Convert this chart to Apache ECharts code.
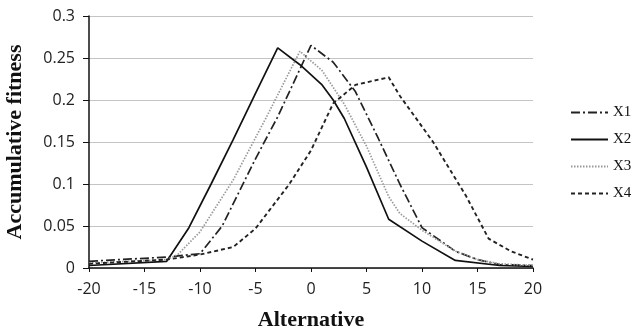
<!DOCTYPE html>
<html><head><meta charset="utf-8">
<script src="https://cdn.jsdelivr.net/npm/echarts@6/dist/echarts.min.js"></script>
<style>html,body{margin:0;padding:0;background:#fff}#c{width:634px;height:331px}</style>
</head><body><div id="c"></div>
<script>
var seriesNames = ['X1', 'X2', 'X3', 'X4'];
var xTicks = [-20, -15, -10, -5, 0, 5, 10, 15, 20];
var yTicks = [0, 0.05, 0.1, 0.15, 0.2, 0.25, 0.3];

var x1X = [-20, -13, -10, -8, -5, -3, 0, 2, 4, 6, 8, 10, 13, 15, 17, 20];
var x1Y = [0.008, 0.013, 0.017, 0.05, 0.13, 0.18, 0.265, 0.245, 0.21, 0.156, 0.1, 0.048, 0.02, 0.01, 0.004, 0.003];

var x2X = [-20, -13, -11, -9, -7, -5, -3, -1, 1, 2, 3, 5, 7, 10, 13, 17, 20];
var x2Y = [0.003, 0.008, 0.048, 0.1, 0.153, 0.208, 0.262, 0.242, 0.218, 0.2, 0.178, 0.12, 0.058, 0.032, 0.009, 0.003, 0.002];

var x3X = [-20, -13, -12, -10, -7, -4, -1, 1, 3, 5, 7, 8, 10, 13, 15, 17, 20];
var x3Y = [0.006, 0.01, 0.016, 0.043, 0.105, 0.18, 0.258, 0.235, 0.195, 0.145, 0.085, 0.065, 0.045, 0.02, 0.01, 0.005, 0.003];

var x4X = [-20, -13, -10, -7, -5, -2, 0, 2, 4, 7, 8, 11, 14, 16, 18, 20];
var x4Y = [0.005, 0.01, 0.016, 0.025, 0.047, 0.099, 0.14, 0.196, 0.218, 0.227, 0.205, 0.15, 0.085, 0.035, 0.02, 0.01];

function pairs(xs, ys) { return xs.map(function (x, i) { return [x, ys[i]]; }); }
var allData = [pairs(x1X, x1Y), pairs(x2X, x2Y), pairs(x3X, x3Y), pairs(x4X, x4Y)];
var styles = [
  {color: '#222', width: 1.7, type: [9, 3, 2, 3]},
  {color: '#111', width: 1.7, type: 'solid'},
  {color: '#999', width: 1.7, type: [1.5, 1.5]},
  {color: '#222', width: 1.9, type: [4, 3]}
];

var chart = echarts.init(document.getElementById('c'), null, {renderer: 'canvas'});
chart.setOption({
  backgroundColor: '#fff',
  animation: false,
  grid: {left: 89, right: 101, top: 16, bottom: 63, containLabel: false, outerBoundsMode: 'none'},
  legend: {
    orient: 'vertical', left: 565, top: 100, itemWidth: 37, itemHeight: 14, itemGap: 12,
    itemStyle: {opacity: 0},
    textStyle: {fontFamily: 'Liberation Serif', fontSize: 15, color: '#111'},
    data: seriesNames
  },
  xAxis: {
    type: 'value', min: xTicks[0], max: xTicks[xTicks.length - 1], interval: 5,
    name: 'Alternative', nameLocation: 'middle', nameGap: 41,
    nameTextStyle: {fontFamily: 'Liberation Serif', fontWeight: 'bold', fontSize: 22, color: '#111'},
    axisLine: {show: true, onZero: false, lineStyle: {color: '#111', width: 1.5}},
    axisTick: {show: true, length: 4, lineStyle: {color: '#111'}},
    axisLabel: {fontFamily: 'Open Sans', fontSize: 16, color: '#222', margin: 13},
    splitLine: {show: false}
  },
  yAxis: {
    type: 'value', min: yTicks[0], max: yTicks[yTicks.length - 1], interval: 0.05,
    name: 'Accumulative fitness', nameLocation: 'middle', nameGap: 63,
    nameTextStyle: {fontFamily: 'Liberation Serif', fontWeight: 'bold', fontSize: 22, color: '#111'},
    axisLine: {show: true, onZero: false, lineStyle: {color: '#111', width: 1.5}},
    axisTick: {show: true, length: 6, lineStyle: {color: '#111'}},
    axisLabel: {fontFamily: 'Open Sans', fontSize: 16, color: '#222', margin: 14},
    splitLine: {show: true, lineStyle: {color: '#c4c4c4', width: 1.2}}
  },
  series: seriesNames.map(function (n, i) {
    return {
      name: n, type: 'line', data: allData[i], symbol: 'none', showSymbol: false,
      itemStyle: {color: styles[i].color},
      lineStyle: {color: styles[i].color, width: styles[i].width, type: styles[i].type}
    };
  })
});
</script></body></html>
